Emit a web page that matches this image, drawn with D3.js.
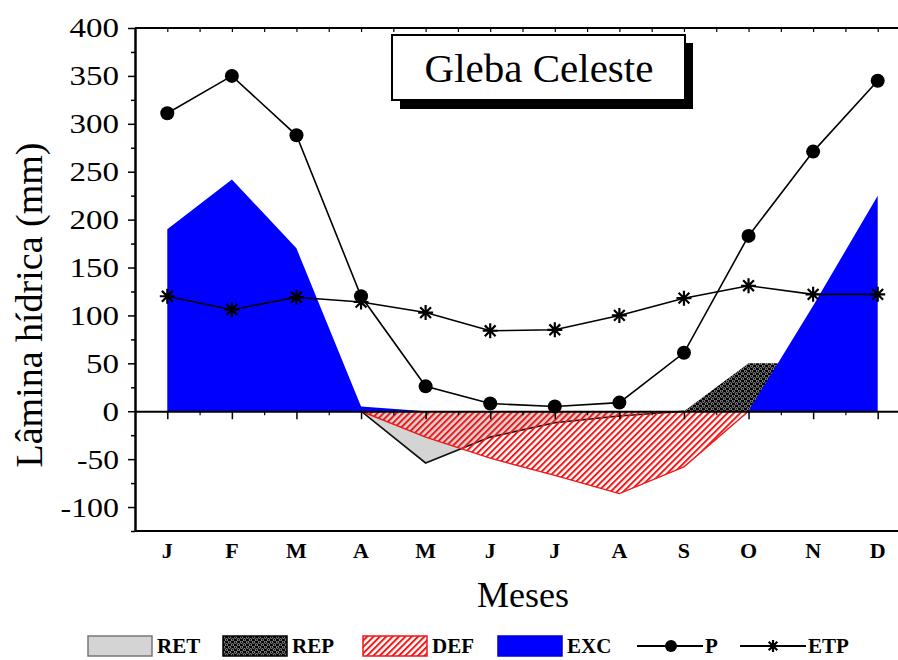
<!DOCTYPE html>
<html>
<head>
<meta charset="utf-8">
<script src="https://cdn.jsdelivr.net/npm/d3@7"></script>
<style>
  body { margin: 0; background: #fff; }
</style>
</head>
<body>
<div id="chart"></div>
<script>
// water balance - Gleba Celeste
const months = ["J", "F", "M", "A", "M", "J", "J", "A", "S", "O", "N", "D"]
const P   = [311, 350, 288, 120, 26, 8, 5, 9, 61, 183, 271, 345]
const ETP = [120, 106, 119, 114, 103, 84, 85, 100, 118, 131, 122, 122]
const EXC = [190, 242, 170, 5, 0, 0, 0, 0, 0, 0, 110, 225]
const REP = [0, 0, 0, 0, 0, 0, 0, 0, 0, 50, 50, 0]
const RET = [0, 0, 0, 0, -54, -27, -12, -5, 0, 0, 0, 0]
const DEF = [0, 0, 0, 0, -27, -49, -67, -86, -58, 0, 0, 0]
const yTicks = [-100, -50, 0, 50, 100, 150, 200, 250, 300, 350, 400]
const legendItems = ["RET", "REP", "DEF", "EXC", "P", "ETP"]

const serif = "Liberation Serif"
const width = 898, height = 660
const plotL = 135, plotR = 910, plotT = 28, plotB = 531

const x = d3.scaleLinear().domain([0.5, 12.5]).range([plotL, plotR])
const y = d3.scaleLinear().domain([-125, 400]).range([plotB, plotT])
const idx = months.map((m, i) => i + 1)

const svg = d3.select("#chart").append("svg")
  .attr("width", width)
  .attr("height", height)

const defs = svg.append("defs")

// red hatch for DEF
const hatch = defs.append("pattern")
  .attr("id", "hatch")
  .attr("patternUnits", "userSpaceOnUse")
  .attr("width", 4.5).attr("height", 4.5)
  .attr("patternTransform", "rotate(45)")
hatch.append("line")
  .attr("x1", 1).attr("y1", 0).attr("x2", 1).attr("y2", 4.5)
  .attr("stroke", "#f01818").attr("stroke-width", 2)

// black dotted texture for REP
const dots = defs.append("pattern")
  .attr("id", "dots")
  .attr("patternUnits", "userSpaceOnUse")
  .attr("width", 6).attr("height", 5)
dots.append("rect").attr("width", 6).attr("height", 5).attr("fill", "#000")
dots.append("circle").attr("cx", 1.5).attr("cy", 1.25).attr("r", 1.2)
  .attr("fill", "none").attr("stroke", "#bbb").attr("stroke-width", 0.8)
dots.append("circle").attr("cx", 4.5).attr("cy", 3.75).attr("r", 1.2)
  .attr("fill", "none").attr("stroke", "#bbb").attr("stroke-width", 0.8)

const area = vals => d3.area()
  .x((d, i) => x(idx[i]))
  .y0(y(0))
  .y1(d => y(d))(vals)

const line = d3.line()
  .x(d => x(d[0]))
  .y(d => y(d[1]))

// areas
svg.append("path").attr("d", area(REP)).attr("fill", "url(#dots)")

svg.append("path").attr("d", area(RET))
  .attr("fill", "#d4d4d4")
svg.append("path")
  .attr("d", line(RET.map((v, i) => [idx[i], v]).slice(3, 9)))
  .attr("fill", "none").attr("stroke", "#111").attr("stroke-width", 1.6)

svg.append("path").attr("d", area(DEF))
  .attr("fill", "url(#hatch)")
svg.append("path")
  .attr("d", line(DEF.map((v, i) => [idx[i], v]).slice(3, 10)))
  .attr("fill", "none").attr("stroke", "#f01818").attr("stroke-width", 1.4)

svg.append("path").attr("d", area(EXC)).attr("fill", "#0000ff")

// frame
svg.append("line")
  .attr("x1", plotL).attr("x2", plotR).attr("y1", plotT).attr("y2", plotT)
  .attr("stroke", "#000").attr("stroke-width", 2)
svg.append("line")
  .attr("x1", plotL).attr("x2", plotR).attr("y1", plotB).attr("y2", plotB)
  .attr("stroke", "#000").attr("stroke-width", 2)

// top small ticks
svg.append("g")
  .attr("transform", `translate(0,${plotT})`)
  .call(d3.axisTop(x).tickValues(d3.range(1, 13.5, 0.5)).tickSize(-4).tickFormat(""))
  .call(g => g.select(".domain").remove())
  .call(g => g.selectAll("line").attr("stroke-width", 1.2))

// zero axis with month ticks
svg.append("g")
  .attr("transform", `translate(0,${y(0)})`)
  .call(d3.axisBottom(x).tickValues(idx).tickSize(8).tickSizeOuter(0).tickFormat(""))
  .call(g => g.select(".domain").attr("stroke-width", 2))
  .call(g => g.selectAll(".tick line").attr("stroke-width", 1.5))
svg.append("g")
  .attr("transform", `translate(0,${y(0)})`)
  .call(d3.axisBottom(x).tickValues(d3.range(1.5, 13, 1)).tickSize(4).tickFormat(""))
  .call(g => g.select(".domain").remove())
  .call(g => g.selectAll("line").attr("stroke-width", 1.2))

// month labels
svg.append("g").selectAll("text")
  .data(months)
  .join("text")
  .attr("x", (d, i) => x(idx[i]))
  .attr("y", 558)
  .attr("text-anchor", "middle")
  .attr("font-size", 22)
  .attr("font-weight", "bold")
  .text(d => d)

// y axis
svg.append("g")
  .attr("transform", `translate(${plotL},0)`)
  .call(d3.axisLeft(y).tickValues(yTicks).tickSize(7).tickSizeOuter(0).tickPadding(9)
    .tickFormat(d => d < 0 ? "-" + Math.abs(d) : String(d)))
  .call(g => g.select(".domain").attr("stroke-width", 2.5))
  .call(g => g.selectAll(".tick line").attr("stroke-width", 1.5))
  .call(g => g.selectAll(".tick text")
    .attr("font-size", 28)
    .attr("textLength", d => String(Math.abs(d)).length * 16.5 + (d < 0 ? 9 : 0))
    .attr("lengthAdjust", "spacingAndGlyphs"))
svg.append("g")
  .attr("transform", `translate(${plotL},0)`)
  .call(d3.axisLeft(y).tickValues(d3.range(-125, 400, 50)).tickSize(4).tickFormat(""))
  .call(g => g.select(".domain").remove())
  .call(g => g.selectAll("line").attr("stroke-width", 1.5))

// lines
svg.append("path")
  .attr("d", line(ETP.map((v, i) => [idx[i], v])))
  .attr("fill", "none").attr("stroke", "#000").attr("stroke-width", 1.6)
svg.append("path")
  .attr("d", line(P.map((v, i) => [idx[i], v])))
  .attr("fill", "none").attr("stroke", "#000").attr("stroke-width", 1.6)

const star = (g, cx, cy, r) => {
  const a = r * 0.72
  g.append("path")
    .attr("d", `M${cx},${cy - r}V${cy + r}M${cx - r},${cy}H${cx + r}` +
      `M${cx - a},${cy - a}L${cx + a},${cy + a}M${cx - a},${cy + a}L${cx + a},${cy - a}`)
    .attr("stroke", "#000").attr("stroke-width", 2.2)
}

const etpG = svg.append("g")
ETP.forEach((v, i) => star(etpG, x(idx[i]), y(v), 7.5))

svg.append("g").selectAll("circle")
  .data(P)
  .join("circle")
  .attr("cx", (d, i) => x(idx[i]))
  .attr("cy", d => y(d))
  .attr("r", 7)
  .attr("fill", "#000")

// title box
svg.append("rect").attr("x", 400).attr("y", 43).attr("width", 293).attr("height", 66).attr("fill", "#000")
svg.append("rect").attr("x", 392).attr("y", 35).attr("width", 293).attr("height", 65)
  .attr("fill", "#fff").attr("stroke", "#000").attr("stroke-width", 2)
svg.append("text")
  .attr("x", 539).attr("y", 82)
  .attr("text-anchor", "middle")
  .attr("font-size", 41)
  .text("Gleba Celeste")

// axis titles
svg.append("text")
  .attr("transform", "translate(42,305) rotate(-90)")
  .attr("text-anchor", "middle")
  .attr("font-size", 38)
  .text("Lâmina hídrica (mm)")
svg.append("text")
  .attr("x", 523).attr("y", 607)
  .attr("text-anchor", "middle")
  .attr("font-size", 36)
  .text("Meses")

// legend
const leg = svg.append("g").attr("transform", "translate(0,646)")
const lx = [88, 223, 363, 498, 637, 740]
const fills = ["#d4d4d4", "url(#dots)", "url(#hatch)", "#0000ff"]
const strokes = ["#777", "#000", "#f01818", "#0000cc"]
legendItems.forEach((name, i) => {
  if (i < 4) {
    leg.append("rect")
      .attr("x", lx[i]).attr("y", -10).attr("width", 64).attr("height", 20)
      .attr("fill", fills[i]).attr("stroke", strokes[i]).attr("stroke-width", 1.5)
    leg.append("text")
      .attr("x", lx[i] + 69).attr("y", 7)
      .attr("font-size", 21).attr("font-weight", "bold")
      .text(name)
  } else {
    leg.append("line")
      .attr("x1", lx[i]).attr("x2", lx[i] + 66).attr("y1", 0).attr("y2", 0)
      .attr("stroke", "#000").attr("stroke-width", 2)
    if (name === "P") {
      leg.append("circle").attr("cx", lx[i] + 34).attr("cy", 0).attr("r", 6).attr("fill", "#000")
    } else {
      star(leg, lx[i] + 33, 0, 6)
    }
    leg.append("text")
      .attr("x", lx[i] + 68).attr("y", 7)
      .attr("font-size", 21).attr("font-weight", "bold")
      .text(name)
  }
})

// serif everywhere (axis groups default to sans-serif)
svg.selectAll("g").attr("font-family", serif)
svg.selectAll("text").attr("font-family", serif).attr("fill", "#000")
</script>
</body>
</html>
